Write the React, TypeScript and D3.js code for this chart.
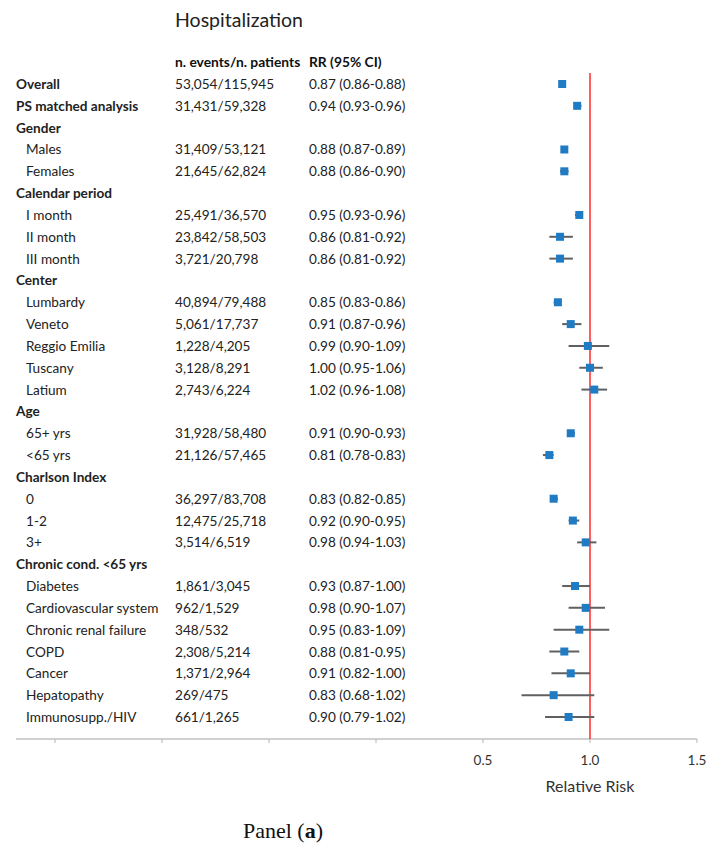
import React from "react";
import * as d3 from "d3";

const labels = ["Overall","PS matched analysis","Gender","Males","Females","Calendar period","I month","II month","III month","Center","Lumbardy","Veneto","Reggio Emilia","Tuscany","Latium","Age","65+ yrs","<65 yrs","Charlson Index","0","1-2","3+","Chronic cond. <65 yrs","Diabetes","Cardiovascular system","Chronic renal failure","COPD","Cancer","Hepatopathy","Immunosupp./HIV"];
const isHeader = [true,true,true,false,false,true,false,false,false,true,false,false,false,false,false,true,false,false,true,false,false,false,true,false,false,false,false,false,false,false];
const events = ["53,054/115,945","31,431/59,328","","31,409/53,121","21,645/62,824","","25,491/36,570","23,842/58,503","3,721/20,798","","40,894/79,488","5,061/17,737","1,228/4,205","3,128/8,291","2,743/6,224","","31,928/58,480","21,126/57,465","","36,297/83,708","12,475/25,718","3,514/6,519","","1,861/3,045","962/1,529","348/532","2,308/5,214","1,371/2,964","269/475","661/1,265"];
const rr = [0.87,0.94,null,0.88,0.88,null,0.95,0.86,0.86,null,0.85,0.91,0.99,1.0,1.02,null,0.91,0.81,null,0.83,0.92,0.98,null,0.93,0.98,0.95,0.88,0.91,0.83,0.90];
const lo = [0.86,0.93,null,0.87,0.86,null,0.93,0.81,0.81,null,0.83,0.87,0.90,0.95,0.96,null,0.90,0.78,null,0.82,0.90,0.94,null,0.87,0.90,0.83,0.81,0.82,0.68,0.79];
const hi = [0.88,0.96,null,0.89,0.90,null,0.96,0.92,0.92,null,0.86,0.96,1.09,1.06,1.08,null,0.93,0.83,null,0.85,0.95,1.03,null,1.00,1.07,1.09,0.95,1.00,1.02,1.02];
const tickValues = [-1.5,-1.0,-0.5,0,0.5,1.0,1.5];
const tickLabels = ["","","","","0.5","1.0","1.5"];

const fmt = (v: number) => v.toFixed(2);

export default function App() {
  const W = 720, H = 853;
  const x = d3.scaleLinear().domain([0, 1.5]).range([376, 697]);
  const y = d3.scaleLinear().domain([0, labels.length - 1]).range([84, 717]);
  const axisY = 739;
  const font = "Lato, 'Open Sans', sans-serif";
  const fs = 13.6;
  return (
    <svg width={W} height={H} style={{ position: "absolute", left: 0, top: 0, background: "#fff" }}>
      <rect width={W} height={H} fill="#fff" />
      <text x={175} y={27} fontFamily={font} fontSize={19.5} fill="#222">Hospitalization</text>
      <text x={175} y={67} fontFamily={font} fontSize={13.8} fontWeight="bold" fill="#111">n. events/n. patients</text>
      <text x={309} y={67} fontFamily={font} fontSize={13.8} fontWeight="bold" fill="#111">RR (95% CI)</text>
      {labels.map((l, i) => (
        <g key={i}>
          <text x={isHeader[i] ? 16 : 26} y={y(i) + 5} fontFamily={font} fontSize={fs} fontWeight={isHeader[i] ? "bold" : "normal"} fill="#222">{l}</text>
          {events[i] && <text x={175} y={y(i) + 5} fontFamily={font} fontSize={fs} fill="#222">{events[i]}</text>}
          {rr[i] !== null && <text x={309} y={y(i) + 5} fontFamily={font} fontSize={fs} fill="#222">{`${fmt(rr[i] as number)} (${fmt(lo[i] as number)}-${fmt(hi[i] as number)})`}</text>}
        </g>
      ))}
      <line x1={16} x2={697} y1={axisY} y2={axisY} stroke="#c0c0c0" strokeWidth={1.5} />
      {tickValues.map((t, i) => (
        <g key={i}>
          <line x1={x(t)} x2={x(t)} y1={axisY} y2={axisY + 4} stroke="#c0c0c0" strokeWidth={1.2} />
          {tickLabels[i] && <text x={x(t)} y={765} textAnchor="middle" fontFamily={font} fontSize={13.5} fill="#333">{tickLabels[i]}</text>}
        </g>
      ))}
      <text x={x(1)} y={792} textAnchor="middle" fontFamily={font} fontSize={16} fill="#333">Relative Risk</text>
      <line x1={x(1)} x2={x(1)} y1={73} y2={axisY} stroke="#ff2a2a" strokeWidth={1.5} />
      {rr.map((v, i) => v === null ? null : (
        <g key={i}>
          <line x1={x(lo[i] as number)} x2={x(hi[i] as number)} y1={y(i)} y2={y(i)} stroke="#606060" strokeWidth={2} />
          <rect x={x(v) - 4} y={y(i) - 4} width={8} height={8} fill="#1f7bc4" />
        </g>
      ))}
      <text x={283} y={838} textAnchor="middle" fontFamily="'Liberation Serif', 'DejaVu Serif', serif" fontSize={22} fill="#111">Panel (<tspan fontWeight="bold">a</tspan>)</text>
    </svg>
  );
}
